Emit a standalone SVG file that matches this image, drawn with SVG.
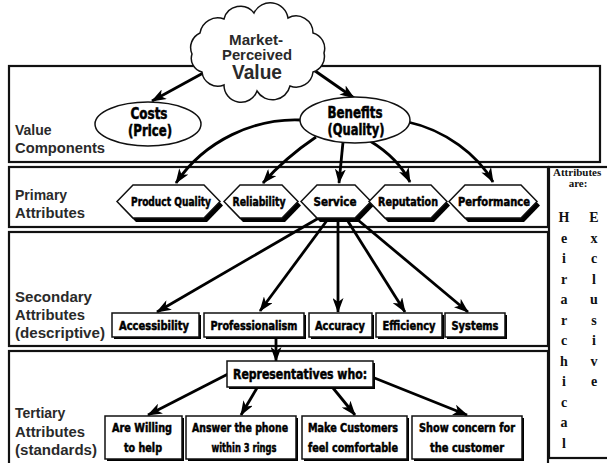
<svg xmlns="http://www.w3.org/2000/svg" width="607" height="463" viewBox="0 0 607 463">
<defs>
<marker id="ah" viewBox="0 0 15 11" markerWidth="15" markerHeight="11" refX="14" refY="5.5" orient="auto" markerUnits="userSpaceOnUse">
<path d="M0,0 L15,5.5 L0,11 L4,5.5 Z" fill="#000"/>
</marker>
</defs>
<style>
.band{fill:none;stroke:#111;stroke-width:2.2}
.lbl{font-family:"Liberation Sans",Arial,sans-serif;font-weight:bold;font-size:14px;fill:#2a2a2a}
.cond{font-family:"Liberation Sans Narrow","DejaVu Sans Condensed","DejaVu Sans",sans-serif;font-weight:bold;font-size:13px;fill:#000;stroke:#000;stroke-width:0.5;text-anchor:middle}
.big{font-size:15px}
.node{fill:#fff;stroke:#111;stroke-width:1.5}
.shadow{fill:#000}
.conn{fill:none;stroke:#000;stroke-width:2.8;marker-end:url(#ah)}
.serif{font-family:"Liberation Serif","Times New Roman",serif;font-weight:bold;fill:#111;text-anchor:middle}
</style>

<g id="bands">
<rect class="band" x="9" y="66" width="591" height="96"/>
<rect class="band" x="9" y="167" width="539" height="60"/>
<rect class="band" x="9" y="232" width="539" height="114"/>
<rect class="band" x="9" y="351" width="539" height="120"/>
<rect class="band" x="549" y="167" width="70" height="291"/>
</g>

<g id="band-labels">
<text class="lbl" x="15" y="135">Value</text>
<text class="lbl" x="15" y="153" textLength="90" lengthAdjust="spacingAndGlyphs">Components</text>
<text class="lbl" x="15" y="200">Primary</text>
<text class="lbl" x="15" y="218" textLength="70" lengthAdjust="spacingAndGlyphs">Attributes</text>
<text class="lbl" x="15" y="302" textLength="77" lengthAdjust="spacingAndGlyphs">Secondary</text>
<text class="lbl" x="15" y="320" textLength="70" lengthAdjust="spacingAndGlyphs">Attributes</text>
<text class="lbl" x="15" y="338" textLength="90" lengthAdjust="spacingAndGlyphs">(descriptive)</text>
<text class="lbl" x="15" y="418">Tertiary</text>
<text class="lbl" x="15" y="437" textLength="70" lengthAdjust="spacingAndGlyphs">Attributes</text>
<text class="lbl" x="15" y="455" textLength="82" lengthAdjust="spacingAndGlyphs">(standards)</text>
</g>

<g id="connectors">
<path class="conn" d="M205 72 L152 101"/>
<path class="conn" d="M308 66 L354 98"/>
<path class="conn" d="M301 120 C255 118 205 140 176 183"/>
<path class="conn" d="M316 137 Q285 158 263 183"/>
<path class="conn" d="M343 142 L339 183"/>
<path class="conn" d="M370 141 Q398 158 410 182"/>
<path class="conn" d="M408 122 C445 130 478 155 493 182"/>
<path class="conn" d="M324 215 L157 312"/>
<path class="conn" d="M331 215 L260 311"/>
<path class="conn" d="M338 215 L338 312"/>
<path class="conn" d="M344 215 L405 312"/>
<path class="conn" d="M352 215 L468 312"/>
<path class="conn" d="M276 338 L276 361"/>
<path class="conn" d="M228 374 L148 415"/>
<path class="conn" d="M257 388 L241 415"/>
<path class="conn" d="M333 388 L355 415"/>
<path class="conn" d="M372 377 L467 415"/>
</g>

<g id="market-perceived-value">
<path class="node" d="M192 54 A16 16 0 0 1 200 33 A18 18 0 0 1 224 19 A17 17 0 0 1 254 13 A18 18 0 0 1 288 18 A17 17 0 0 1 313 33 A16 16 0 0 1 324 53 A16 16 0 0 1 313 72 A17 17 0 0 1 290 86 A18 18 0 0 1 257 91 A17 17 0 0 1 224 85 A16 16 0 0 1 202 72 A14 14 0 0 1 192 54 Z"/>
<text class="lbl" x="256" y="45" text-anchor="middle" textLength="54" lengthAdjust="spacingAndGlyphs">Market-</text>
<text class="lbl" x="257" y="60" text-anchor="middle" textLength="70" lengthAdjust="spacingAndGlyphs">Perceived</text>
<text class="lbl" x="257" y="79" text-anchor="middle" style="font-size:20px" textLength="50" lengthAdjust="spacingAndGlyphs">Value</text>
</g>

<g id="costs">
<ellipse class="node" cx="148" cy="124" rx="53" ry="22"/>
<text class="cond big" x="149" y="119" textLength="37" lengthAdjust="spacingAndGlyphs">Costs</text>
<text class="cond big" x="150" y="136" textLength="44" lengthAdjust="spacingAndGlyphs">(Price)</text>
</g>

<g id="benefits">
<ellipse class="node" cx="355" cy="120" rx="55" ry="23"/>
<text class="cond big" x="355" y="118" textLength="55" lengthAdjust="spacingAndGlyphs">Benefits</text>
<text class="cond big" x="356" y="135" textLength="57" lengthAdjust="spacingAndGlyphs">(Quality)</text>
</g>

<g id="product-quality">
<polygon class="shadow" transform="translate(3,4)" points="117,201.5 133,185 204,185 220,201.5 204,218 133,218"/>
<polygon class="node" points="117,201.5 133,185 204,185 220,201.5 204,218 133,218"/>
<text class="cond" x="171" y="206" textLength="80" lengthAdjust="spacingAndGlyphs">Product Quality</text>
</g>
<g id="reliability">
<polygon class="shadow" transform="translate(3,4)" points="224,201.5 240,185 282,185 298,201.5 282,218 240,218"/>
<polygon class="node" points="224,201.5 240,185 282,185 298,201.5 282,218 240,218"/>
<text class="cond" x="259" y="206" textLength="53" lengthAdjust="spacingAndGlyphs">Reliability</text>
</g>
<g id="service">
<polygon class="shadow" transform="translate(3,4)" points="301,201.5 317,185 355,185 371,201.5 355,218 317,218"/>
<polygon class="node" points="301,201.5 317,185 355,185 371,201.5 355,218 317,218"/>
<text class="cond" x="335" y="206" textLength="43" lengthAdjust="spacingAndGlyphs">Service</text>
</g>
<g id="reputation">
<polygon class="shadow" transform="translate(3,4)" points="369,201.5 385,185 431,185 447,201.5 431,218 385,218"/>
<polygon class="node" points="369,201.5 385,185 431,185 447,201.5 431,218 385,218"/>
<text class="cond" x="408" y="206" textLength="60" lengthAdjust="spacingAndGlyphs">Reputation</text>
</g>
<g id="performance">
<polygon class="shadow" transform="translate(3,4)" points="449,201.5 465,185 521,185 537,201.5 521,218 465,218"/>
<polygon class="node" points="449,201.5 465,185 521,185 537,201.5 521,218 465,218"/>
<text class="cond" x="494" y="206" textLength="72" lengthAdjust="spacingAndGlyphs">Performance</text>
</g>

<g id="accessibility">
<rect class="shadow" x="114" y="315" width="87" height="24"/>
<rect class="node" x="112" y="313" width="87" height="24"/>
<text class="cond" x="154" y="330" textLength="70" lengthAdjust="spacingAndGlyphs">Accessibility</text>
</g>
<g id="professionalism">
<rect class="shadow" x="206" y="315" width="100" height="24"/>
<rect class="node" x="204" y="313" width="100" height="24"/>
<text class="cond" x="254" y="330" textLength="87" lengthAdjust="spacingAndGlyphs">Professionalism</text>
</g>
<g id="accuracy">
<rect class="shadow" x="311" y="315" width="63" height="24"/>
<rect class="node" x="309" y="313" width="63" height="24"/>
<text class="cond" x="340" y="330" textLength="50" lengthAdjust="spacingAndGlyphs">Accuracy</text>
</g>
<g id="efficiency">
<rect class="shadow" x="378" y="315" width="66" height="24"/>
<rect class="node" x="376" y="313" width="66" height="24"/>
<text class="cond" x="409" y="330" textLength="53" lengthAdjust="spacingAndGlyphs">Efficiency</text>
</g>
<g id="systems">
<rect class="shadow" x="447" y="315" width="60" height="24"/>
<rect class="node" x="445" y="313" width="60" height="24"/>
<text class="cond" x="475" y="330" textLength="47" lengthAdjust="spacingAndGlyphs">Systems</text>
</g>

<g id="representatives">
<rect class="shadow" x="229" y="363" width="146" height="26"/>
<rect class="node" x="227" y="361" width="146" height="26"/>
<text class="cond" x="300" y="379" style="font-size:14px" textLength="134" lengthAdjust="spacingAndGlyphs">Representatives who:</text>
</g>

<g id="willing">
<rect class="shadow" x="107" y="418" width="77" height="43"/>
<rect class="node" x="105" y="416" width="77" height="43"/>
<text class="cond" x="142" y="432" textLength="60" lengthAdjust="spacingAndGlyphs">Are Willing</text>
<text class="cond" x="143" y="452" textLength="38" lengthAdjust="spacingAndGlyphs">to help</text>
</g>
<g id="answer">
<rect class="shadow" x="188" y="418" width="110" height="43"/>
<rect class="node" x="186" y="416" width="110" height="43"/>
<text class="cond" x="240" y="432" textLength="96" lengthAdjust="spacingAndGlyphs">Answer the phone</text>
<text class="cond" x="244" y="452" textLength="65" lengthAdjust="spacingAndGlyphs">within 3 rings</text>
</g>
<g id="comfortable">
<rect class="shadow" x="304" y="418" width="105" height="43"/>
<rect class="node" x="302" y="416" width="105" height="43"/>
<text class="cond" x="353" y="432" textLength="90" lengthAdjust="spacingAndGlyphs">Make Customers</text>
<text class="cond" x="353" y="452" textLength="90" lengthAdjust="spacingAndGlyphs">feel comfortable</text>
</g>
<g id="concern">
<rect class="shadow" x="414" y="418" width="110" height="43"/>
<rect class="node" x="412" y="416" width="110" height="43"/>
<text class="cond" x="467" y="432" textLength="96" lengthAdjust="spacingAndGlyphs">Show concern for</text>
<text class="cond" x="467" y="452" textLength="74" lengthAdjust="spacingAndGlyphs">the customer</text>
</g>

<g id="attributes-note">
<text class="serif" x="553" y="176" style="font-size:11px;text-anchor:start">Attributes</text>
<text class="serif" x="578" y="187" style="font-size:11px">are:</text>
<g class="serif" style="font-size:14px">
<text x="564" y="222">H</text>
<text x="564" y="242.5">e</text>
<text x="564" y="263">i</text>
<text x="564" y="283.5">r</text>
<text x="564" y="304">a</text>
<text x="564" y="324.5">r</text>
<text x="564" y="345">c</text>
<text x="564" y="365.5">h</text>
<text x="564" y="386">i</text>
<text x="564" y="406.5">c</text>
<text x="564" y="427">a</text>
<text x="564" y="447.5">l</text>
<text x="594" y="222">E</text>
<text x="594" y="242.5">x</text>
<text x="594" y="263">c</text>
<text x="594" y="283.5">l</text>
<text x="594" y="304">u</text>
<text x="594" y="324.5">s</text>
<text x="594" y="345">i</text>
<text x="594" y="365.5">v</text>
<text x="594" y="386">e</text>
</g>
</g>
</svg>
